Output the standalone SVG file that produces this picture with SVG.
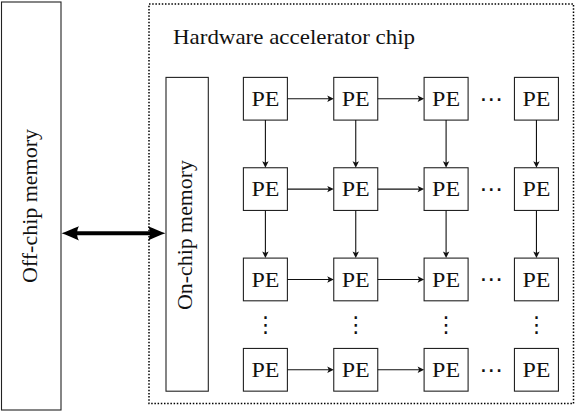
<svg xmlns="http://www.w3.org/2000/svg" width="578" height="412" viewBox="0 0 578 412">
<style>
.box{fill:#fff;stroke:#222;stroke-width:1.1}
.lbl{font-family:"Liberation Serif","Times New Roman",serif;font-size:21px;fill:#111}
.pe{font-family:"Liberation Serif","Times New Roman",serif;font-size:21px;fill:#111;text-anchor:middle}
.hdots{font-family:"DejaVu Serif","DejaVu Sans",serif;font-size:23.5px;fill:#111;text-anchor:middle}
.vdots{font-family:"DejaVu Serif","DejaVu Sans",serif;font-size:22px;fill:#111;text-anchor:middle}
.arr{fill:none;stroke:#111;stroke-width:1.1;marker-end:url(#ah)}
</style>
<defs>
<marker id="ah" markerUnits="userSpaceOnUse" markerWidth="12" markerHeight="10" refX="0" refY="0" viewBox="-6 -5 12 10" orient="auto" overflow="visible">
<path d="M3,0 L-3.5,-3.2 L-2,0 L-3.5,3.2 Z" fill="#111"/>
</marker>
</defs>
<g id="offchip">
<rect class="box" x="1.5" y="2" width="59.5" height="408"/>
<text class="lbl" transform="translate(36.5,206) rotate(-90)" text-anchor="middle" textLength="154" lengthAdjust="spacingAndGlyphs">Off-chip memory</text>
</g>
<g id="chip">
<rect x="149" y="4" width="424.5" height="399.5" fill="none" stroke="#000" stroke-width="1.5" stroke-dasharray="1.5 1.7"/>
<text class="lbl" x="173" y="44" textLength="242" lengthAdjust="spacingAndGlyphs">Hardware accelerator chip</text>
</g>
<g id="onchip">
<rect class="box" x="166" y="77.4" width="42.3" height="313.8"/>
<text class="lbl" transform="translate(192,235) rotate(-90)" text-anchor="middle" textLength="150" lengthAdjust="spacingAndGlyphs">On-chip memory</text>
</g>
<g id="pe-grid">
<g id="pe-0-0"><rect class="box" x="243.4" y="77.4" width="44" height="42.7"/><text class="pe" x="265.4" y="105.8" textLength="28" lengthAdjust="spacingAndGlyphs">PE</text></g>
<g id="pe-0-1"><rect class="box" x="333.75" y="77.4" width="44" height="42.7"/><text class="pe" x="355.75" y="105.8" textLength="28" lengthAdjust="spacingAndGlyphs">PE</text></g>
<g id="pe-0-2"><rect class="box" x="424.1" y="77.4" width="44" height="42.7"/><text class="pe" x="446.1" y="105.8" textLength="28" lengthAdjust="spacingAndGlyphs">PE</text></g>
<g id="pe-0-3"><rect class="box" x="514.45" y="77.4" width="44" height="42.7"/><text class="pe" x="536.45" y="105.8" textLength="28" lengthAdjust="spacingAndGlyphs">PE</text></g>
<g id="pe-1-0"><rect class="box" x="243.4" y="167.75" width="44" height="42.7"/><text class="pe" x="265.4" y="196.15" textLength="28" lengthAdjust="spacingAndGlyphs">PE</text></g>
<g id="pe-1-1"><rect class="box" x="333.75" y="167.75" width="44" height="42.7"/><text class="pe" x="355.75" y="196.15" textLength="28" lengthAdjust="spacingAndGlyphs">PE</text></g>
<g id="pe-1-2"><rect class="box" x="424.1" y="167.75" width="44" height="42.7"/><text class="pe" x="446.1" y="196.15" textLength="28" lengthAdjust="spacingAndGlyphs">PE</text></g>
<g id="pe-1-3"><rect class="box" x="514.45" y="167.75" width="44" height="42.7"/><text class="pe" x="536.45" y="196.15" textLength="28" lengthAdjust="spacingAndGlyphs">PE</text></g>
<g id="pe-2-0"><rect class="box" x="243.4" y="258.1" width="44" height="42.7"/><text class="pe" x="265.4" y="286.5" textLength="28" lengthAdjust="spacingAndGlyphs">PE</text></g>
<g id="pe-2-1"><rect class="box" x="333.75" y="258.1" width="44" height="42.7"/><text class="pe" x="355.75" y="286.5" textLength="28" lengthAdjust="spacingAndGlyphs">PE</text></g>
<g id="pe-2-2"><rect class="box" x="424.1" y="258.1" width="44" height="42.7"/><text class="pe" x="446.1" y="286.5" textLength="28" lengthAdjust="spacingAndGlyphs">PE</text></g>
<g id="pe-2-3"><rect class="box" x="514.45" y="258.1" width="44" height="42.7"/><text class="pe" x="536.45" y="286.5" textLength="28" lengthAdjust="spacingAndGlyphs">PE</text></g>
<g id="pe-3-0"><rect class="box" x="243.4" y="348.45" width="44" height="42.7"/><text class="pe" x="265.4" y="376.85" textLength="28" lengthAdjust="spacingAndGlyphs">PE</text></g>
<g id="pe-3-1"><rect class="box" x="333.75" y="348.45" width="44" height="42.7"/><text class="pe" x="355.75" y="376.85" textLength="28" lengthAdjust="spacingAndGlyphs">PE</text></g>
<g id="pe-3-2"><rect class="box" x="424.1" y="348.45" width="44" height="42.7"/><text class="pe" x="446.1" y="376.85" textLength="28" lengthAdjust="spacingAndGlyphs">PE</text></g>
<g id="pe-3-3"><rect class="box" x="514.45" y="348.45" width="44" height="42.7"/><text class="pe" x="536.45" y="376.85" textLength="28" lengthAdjust="spacingAndGlyphs">PE</text></g>
</g>
<g id="ellipses">
<text class="hdots" x="491.3" y="106.6">⋯</text>
<text class="hdots" x="491.3" y="196.9">⋯</text>
<text class="hdots" x="491.3" y="287.3">⋯</text>
<text class="hdots" x="491.3" y="377.6">⋯</text>
<text class="vdots" x="265.4" y="332">⋮</text>
<text class="vdots" x="355.75" y="332">⋮</text>
<text class="vdots" x="446.1" y="332">⋮</text>
<text class="vdots" x="536.45" y="332">⋮</text>
</g>
<g id="connectors">
<path d="M72,233.3 H155" stroke="#000" stroke-width="4" fill="none"/>
<path d="M61.5,233.3 C66,232 72,229 79,226.2 C76.5,230 76.5,236.6 79,240.4 C72,237.6 66,234.6 61.5,233.3 Z" fill="#000"/>
<path d="M165.5,233.3 C161,232 155,229 148,226.2 C150.5,230 150.5,236.6 148,240.4 C155,237.6 161,234.6 165.5,233.3 Z" fill="#000"/>
<path class="arr" d="M287.4,98.75 H330.75"/>
<path class="arr" d="M377.75,98.75 H421.1"/>
<path class="arr" d="M287.4,189.1 H330.75"/>
<path class="arr" d="M377.75,189.1 H421.1"/>
<path class="arr" d="M287.4,279.45 H330.75"/>
<path class="arr" d="M377.75,279.45 H421.1"/>
<path class="arr" d="M287.4,369.8 H330.75"/>
<path class="arr" d="M377.75,369.8 H421.1"/>
<path class="arr" d="M265.4,120.1 V164.75"/>
<path class="arr" d="M355.75,120.1 V164.75"/>
<path class="arr" d="M446.1,120.1 V164.75"/>
<path class="arr" d="M536.45,120.1 V164.75"/>
<path class="arr" d="M265.4,210.45 V255.1"/>
<path class="arr" d="M355.75,210.45 V255.1"/>
<path class="arr" d="M446.1,210.45 V255.1"/>
<path class="arr" d="M536.45,210.45 V255.1"/>
</g>
</svg>
